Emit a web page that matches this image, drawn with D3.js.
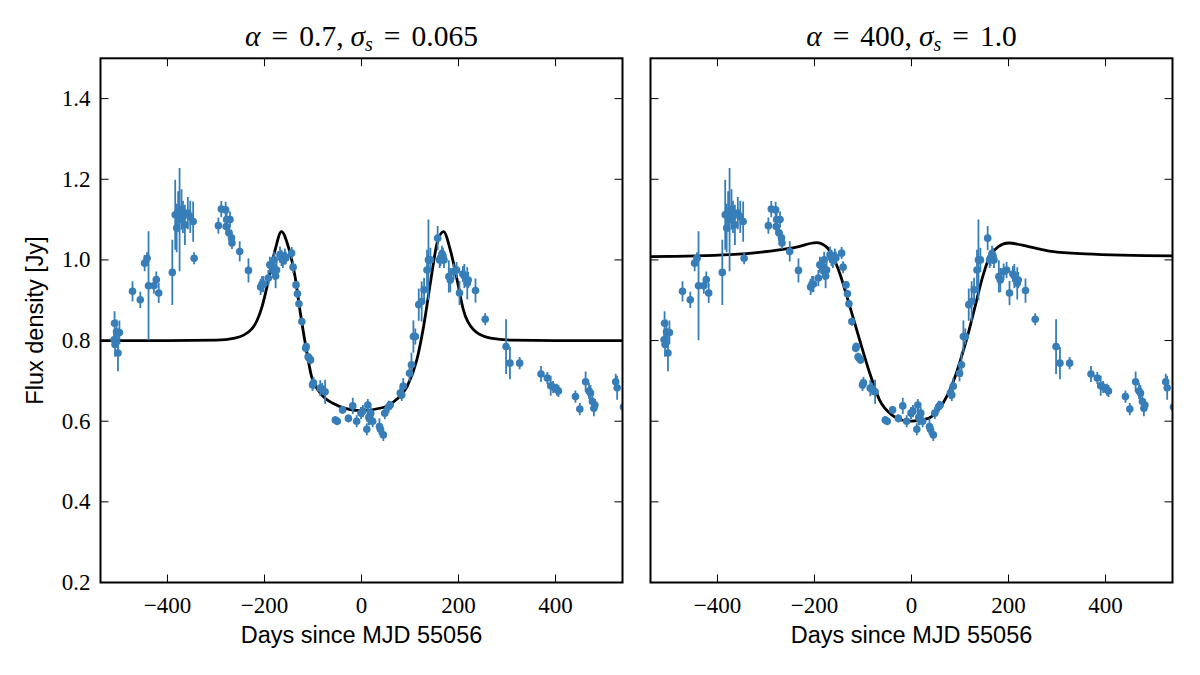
<!DOCTYPE html>
<html>
<head>
<meta charset="utf-8">
<script src="https://cdn.jsdelivr.net/npm/d3@7"></script>
<style>
	body { margin: 0; background: #fff; }
	svg { display: block; }
</style>
</head>
<body>
<script>
// observed light curve (same data in both panels)
const days = [
	-510, -509, -508, -505, -502, -499, -472, -456, -447, -442, -439, -428, -423, -418,
	-390, -384, -381, -378, -375, -371, -368, -364, -358, -353, -347, -345,
	-295, -289, -280, -279, -278, -273, -271, -268, -267, -251, -233,
	-208, -205, -202, -192, -189, -186, -180, -179, -177, -175, -168, -165, -162, -158, -156,
	-144, -141, -135, -132, -129, -123, -115, -114, -110, -108, -105, -101, -99, -85, -81, -75,
	-54, -50, -39, -27, -18, -10, -1, 3, 11, 13, 15, 17, 19, 23, 37, 39, 45, 48, 56, 59,
	80, 83, 86, 99, 103, 107, 111, 118, 124, 129, 135, 138, 142, 157, 161, 163, 166, 168, 170,
	180, 183, 190, 196, 202, 209, 212, 218, 220, 235, 255, 298, 306, 326,
	370, 383, 390, 395, 403, 406, 441, 450, 462, 469, 472, 476, 479, 481, 524, 527, 540
]
const flux = [
	0.802, 0.843, 0.79, 0.822, 0.769, 0.82, 0.922, 0.901, 0.992, 1.004, 0.936, 0.936, 0.951, 0.918,
	0.969, 1.112, 1.079, 1.12, 1.10, 1.125, 1.107, 1.087, 1.116, 1.107, 1.095, 1.004,
	1.085, 1.126, 1.124, 1.083, 1.10, 1.067, 1.10, 1.055, 1.042, 1.021, 0.974,
	0.933, 0.94, 0.94, 0.955, 0.988, 0.985, 1.0, 0.97, 0.96, 0.975, 1.013, 1.005, 1.0, 1.008, 1.005,
	1.017, 0.982, 0.938, 0.916, 0.891, 0.847, 0.781, 0.785, 0.76, 0.756, 0.752, 0.69, 0.695, 0.682, 0.68, 0.673,
	0.603, 0.60, 0.628, 0.607, 0.638, 0.60, 0.62, 0.625, 0.58, 0.64, 0.61, 0.605, 0.62, 0.60, 0.587, 0.58, 0.566, 0.62, 0.636, 0.64,
	0.67, 0.665, 0.687, 0.719, 0.74, 0.81, 0.81, 0.889, 0.897, 0.926, 0.975, 1.0, 1.0, 1.054, 1.0, 1.005, 1.015, 1.01, 1.0,
	0.959, 0.95, 0.971, 0.975, 0.918, 0.965, 0.96, 0.942, 0.95, 0.924, 0.853, 0.785, 0.744, 0.744,
	0.717, 0.707, 0.688, 0.685, 0.678, 0.675, 0.661, 0.63, 0.698, 0.675, 0.67, 0.649, 0.632, 0.64, 0.698, 0.683, 0.635
]
const fluxErr = [
	0.02, 0.03, 0.03, 0.03, 0.045, 0.03, 0.025, 0.02, 0.02, 0.015, 0.135, 0.02, 0.02, 0.025,
	0.081, 0.087, 0.06, 0.05, 0.128, 0.05, 0.04, 0.05, 0.04, 0.04, 0.05, 0.015,
	0.02, 0.02, 0.02, 0.02, 0.02, 0.02, 0.02, 0.015, 0.015, 0.025, 0.03,
	0.02, 0.02, 0.02, 0.02, 0.02, 0.02, 0.02, 0.02, 0.03, 0.02, 0.02, 0.02, 0.02, 0.02, 0.015,
	0.015, 0.015, 0.01, 0.01, 0.01, 0.01, 0.01, 0.01, 0.01, 0.01, 0.01, 0.015, 0.015, 0.02, 0.015, 0.03,
	0.01, 0.01, 0.01, 0.01, 0.02, 0.015, 0.015, 0.015, 0.015, 0.015, 0.02, 0.015, 0.015, 0.015, 0.02, 0.015, 0.015, 0.015, 0.015, 0.01,
	0.015, 0.015, 0.02, 0.02, 0.03, 0.04, 0.02, 0.04, 0.05, 0.03, 0.05, 0.1, 0.03, 0.03, 0.02, 0.02, 0.02, 0.02, 0.02,
	0.04, 0.03, 0.02, 0.02, 0.03, 0.02, 0.03, 0.04, 0.02, 0.03, 0.015, 0.068, 0.04, 0.015,
	0.02, 0.015, 0.025, 0.015, 0.015, 0.015, 0.015, 0.015, 0.025, 0.02, 0.02, 0.02, 0.02, 0.015, 0.02, 0.03, 0.02
]

// model curves
const modelDaysA = [
	-538, -400, -300, -261, -226, -205, -193, -178, -165, -151, -137, -127, -116, -103, -85, -60,
	-3, 45, 73, 94, 114, 128, 142, 156, 169, 183, 197, 210, 231, 266, 310, 400, 538
]
const modelFluxA = [
	0.80, 0.80, 0.801, 0.806, 0.829, 0.884, 0.943, 1.025, 1.070, 1.033, 0.959, 0.876, 0.794, 0.711, 0.670, 0.645,
	0.626, 0.634, 0.655, 0.686, 0.752, 0.835, 0.943, 1.042, 1.070, 1.025, 0.951, 0.876, 0.827, 0.806, 0.801, 0.80, 0.80
]
const modelDaysB = [
	-538, -375, -273, -237, -196, -176, -162, -148, -127, -107, -86, -66, -40, -21, 0, 35, 55,
	76, 90, 103, 117, 131, 145, 158, 179, 200, 241, 289, 358, 538
]
const modelFluxB = [
	1.008, 1.013, 1.025, 1.032, 1.043, 1.033, 1.008, 0.967, 0.884, 0.802, 0.719, 0.653, 0.615, 0.603, 0.600, 0.607, 0.628,
	0.669, 0.711, 0.760, 0.818, 0.884, 0.951, 1.000, 1.033, 1.042, 1.033, 1.021, 1.015, 1.010
]

const xTicks = [-400, -200, 0, 200, 400]
const yTicks = [0.2, 0.4, 0.6, 0.8, 1.0, 1.2, 1.4]
// title pieces: text, italic, baseline shift, gap before
const titleA = [['α', 1, 0, 0], ['=', 0, 0, 11], ['0.7,', 0, 0, 11], ['σ', 1, 0, 7], ['s', 1, 5, 0], ['=', 0, -5, 11], ['0.065', 0, 0, 11]]
const titleB = [['α', 1, 0, 0], ['=', 0, 0, 11], ['400,', 0, 0, 11], ['σ', 1, 0, 7], ['s', 1, 5, 0], ['=', 0, -5, 11], ['1.0', 0, 0, 11]]

const W = 1200, H = 675
const blue = '#377eb8'
const serif = '"Liberation Serif", "DejaVu Serif", serif'
const sans = '"Liberation Sans", Arial, sans-serif'

const svg = d3.select('body').append('svg')
	.attr('width', W)
	.attr('height', H)

const yTop = 58.3, yBot = 582.5, pw = 522

const y = d3.scaleLinear().domain([0.2, 1.5]).range([yBot, yTop])

const points = days.map((d, i) => ({ day: d, flux: flux[i], err: fluxErr[i] }))

function panel(left, id, title, mDays, mFlux, showY) {
	const x = d3.scaleLinear().domain([-538, 538]).range([left, left + pw])
	const g = svg.append('g')

	g.append('clipPath').attr('id', id)
		.append('rect')
		.attr('x', left).attr('y', yTop)
		.attr('width', pw).attr('height', yBot - yTop)

	const plot = g.append('g').attr('clip-path', `url(#${id})`)

	// model
	const line = d3.line()
		.x(d => x(d))
		.y((d, i) => y(mFlux[i]))
		.curve(d3.curveMonotoneX)

	plot.append('path')
		.attr('d', line(mDays))
		.attr('fill', 'none')
		.attr('stroke', '#000')
		.attr('stroke-width', 2.8)

	// error bars + points
	plot.append('g').selectAll('line')
		.data(points)
		.enter()
		.append('line')
		.attr('x1', d => x(d.day)).attr('x2', d => x(d.day))
		.attr('y1', d => y(d.flux - d.err)).attr('y2', d => y(d.flux + d.err))
		.attr('stroke', blue)
		.attr('stroke-width', 1.8)

	plot.append('g').selectAll('circle')
		.data(points)
		.enter()
		.append('circle')
		.attr('cx', d => x(d.day))
		.attr('cy', d => y(d.flux))
		.attr('r', 3.8)
		.attr('fill', blue)

	// ticks, inward on all sides
	const tk = g.append('g').attr('stroke', '#000').attr('stroke-width', 1)
	xTicks.forEach(t => {
		tk.append('line').attr('x1', x(t)).attr('x2', x(t)).attr('y1', yBot).attr('y2', yBot - 8)
		tk.append('line').attr('x1', x(t)).attr('x2', x(t)).attr('y1', yTop).attr('y2', yTop + 8)
	})
	yTicks.forEach(t => {
		tk.append('line').attr('x1', left).attr('x2', left + 8).attr('y1', y(t)).attr('y2', y(t))
		tk.append('line').attr('x1', left + pw).attr('x2', left + pw - 8).attr('y1', y(t)).attr('y2', y(t))
	})

	g.append('rect')
		.attr('x', left).attr('y', yTop)
		.attr('width', pw).attr('height', yBot - yTop)
		.attr('fill', 'none')
		.attr('stroke', '#000')
		.attr('stroke-width', 2)

	// tick labels
	g.append('g').selectAll('text')
		.data(xTicks)
		.enter()
		.append('text')
		.attr('x', d => x(d))
		.attr('y', 613)
		.attr('text-anchor', 'middle')
		.attr('font-family', serif)
		.attr('font-size', 23)
		.text(d => d < 0 ? `−${-d}` : d)

	if (showY) {
		g.append('g').selectAll('text')
			.data(yTicks)
			.enter()
			.append('text')
			.attr('x', left - 10)
			.attr('y', d => y(d) + 7.5)
			.attr('text-anchor', 'end')
			.attr('font-family', serif)
			.attr('font-size', 23)
			.text(d => d.toFixed(1))
	}

	g.append('text')
		.attr('x', left + pw / 2)
		.attr('y', 643)
		.attr('text-anchor', 'middle')
		.attr('font-family', sans)
		.attr('font-size', 23.5)
		.text('Days since MJD 55056')

	const tt = g.append('text')
		.attr('x', left + pw / 2)
		.attr('y', 46)
		.attr('text-anchor', 'middle')
		.attr('font-family', serif)
		.attr('font-size', 29.5)

	tt.selectAll('tspan')
		.data(title)
		.enter()
		.append('tspan')
		.attr('font-style', d => d[1] ? 'italic' : 'normal')
		.attr('font-size', d => d[2] > 0 ? 20 : null)
		.attr('dy', d => d[2] || null)
		.attr('dx', d => d[3] || null)
		.text(d => d[0])
}

panel(100.5, 'clipA', titleA, modelDaysA, modelFluxA, true)
panel(650.5, 'clipB', titleB, modelDaysB, modelFluxB, false)

svg.append('text')
	.attr('transform', `translate(43,${(yTop + yBot) / 2}) rotate(-90)`)
	.attr('text-anchor', 'middle')
	.attr('font-family', sans)
	.attr('font-size', 23.5)
	.text('Flux density [Jy]')
</script>
</body>
</html>
